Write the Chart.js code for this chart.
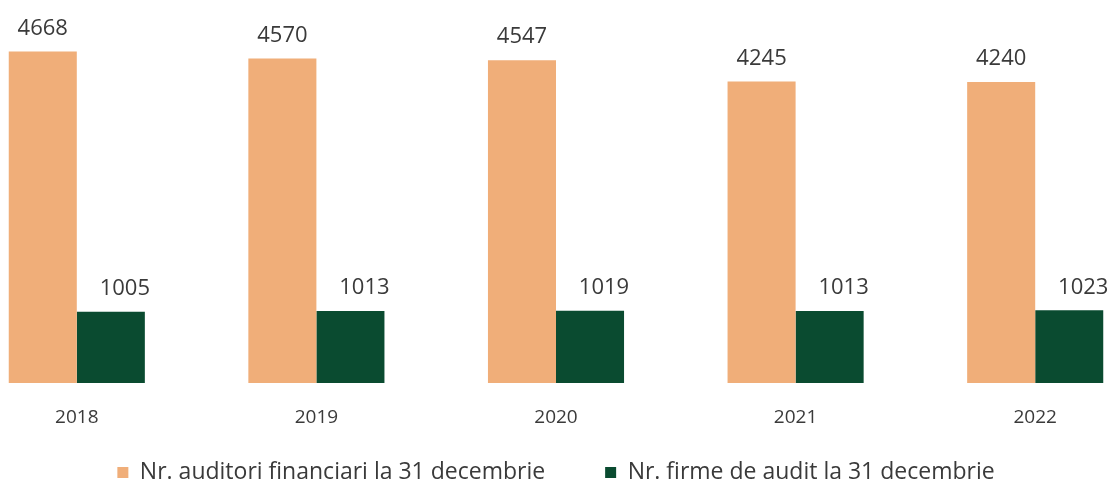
<!DOCTYPE html>
<html>
<head>
<meta charset="utf-8">
<script src="https://cdn.jsdelivr.net/npm/chart.js@4"></script>
<style>
  body { margin: 0; background: #fff; overflow: hidden; }
  #wrap { position: absolute; left: -43px; top: 0; width: 1198px; height: 481px; }
</style>
</head>
<body>
<div id="wrap"><canvas id="chart"></canvas></div>
<script>
const years = ["2018", "2019", "2020", "2021", "2022"];
const auditori = [4668, 4570, 4547, 4245, 4240];
const firme = [1005, 1013, 1019, 1013, 1023];
const seriesNames = ["Nr. auditori financiari la 31 decembrie", "Nr. firme de audit la 31 decembrie"];

const FONT = "'Open Sans', sans-serif";

// value labels above bars (green ones sit a bit to the right, like the original)
const valueLabels = {
  id: "valueLabels",
  afterDatasetsDraw(chart) {
    const ctx = chart.ctx;
    ctx.save();
    ctx.font = "22px " + FONT;
    ctx.fillStyle = "#3a3a3a";
    ctx.textAlign = "center";
    ctx.textBaseline = "middle";
    chart.data.datasets.forEach((ds, i) => {
      const meta = chart.getDatasetMeta(i);
      const dx = i === 1 ? 14 : 0;
      meta.data.forEach((bar, j) => {
        ctx.fillText(ds.data[j], bar.x + dx, bar.y - 23);
      });
    });
    ctx.restore();
  }
};

new Chart(document.getElementById("chart"), {
  type: "bar",
  data: {
    labels: years,
    datasets: [
      { label: seriesNames[0], data: auditori, backgroundColor: "#F0AE79" },
      { label: seriesNames[1], data: firme, backgroundColor: "#0A4B30" }
    ]
  },
  options: {
    responsive: true,
    maintainAspectRatio: false,
    animation: false,
    categoryPercentage: 0.568,
    barPercentage: 1,
    layout: { padding: { top: 28, left: 0, right: 0, bottom: -13 } },
    scales: {
      x: {
        grid: { display: false },
        border: { display: false },
        // mirrored labels are not clipped to the thin axis box; negative padding pushes them down
        ticks: { font: { family: FONT, size: 19 }, color: "#3a3a3a", padding: -46, mirror: true },
        afterFit(scale) { scale.height = 18; }
      },
      y: { display: false, min: 0, max: 5000 }
    },
    plugins: {
      tooltip: { enabled: false },
      legend: {
        position: "bottom",
        labels: {
          font: { family: FONT, size: 23 },
          color: "#3a3a3a",
          boxWidth: 11,
          boxHeight: 11,
          padding: 60
        }
      }
    }
  },
  plugins: [valueLabels]
});
</script>
</body>
</html>
